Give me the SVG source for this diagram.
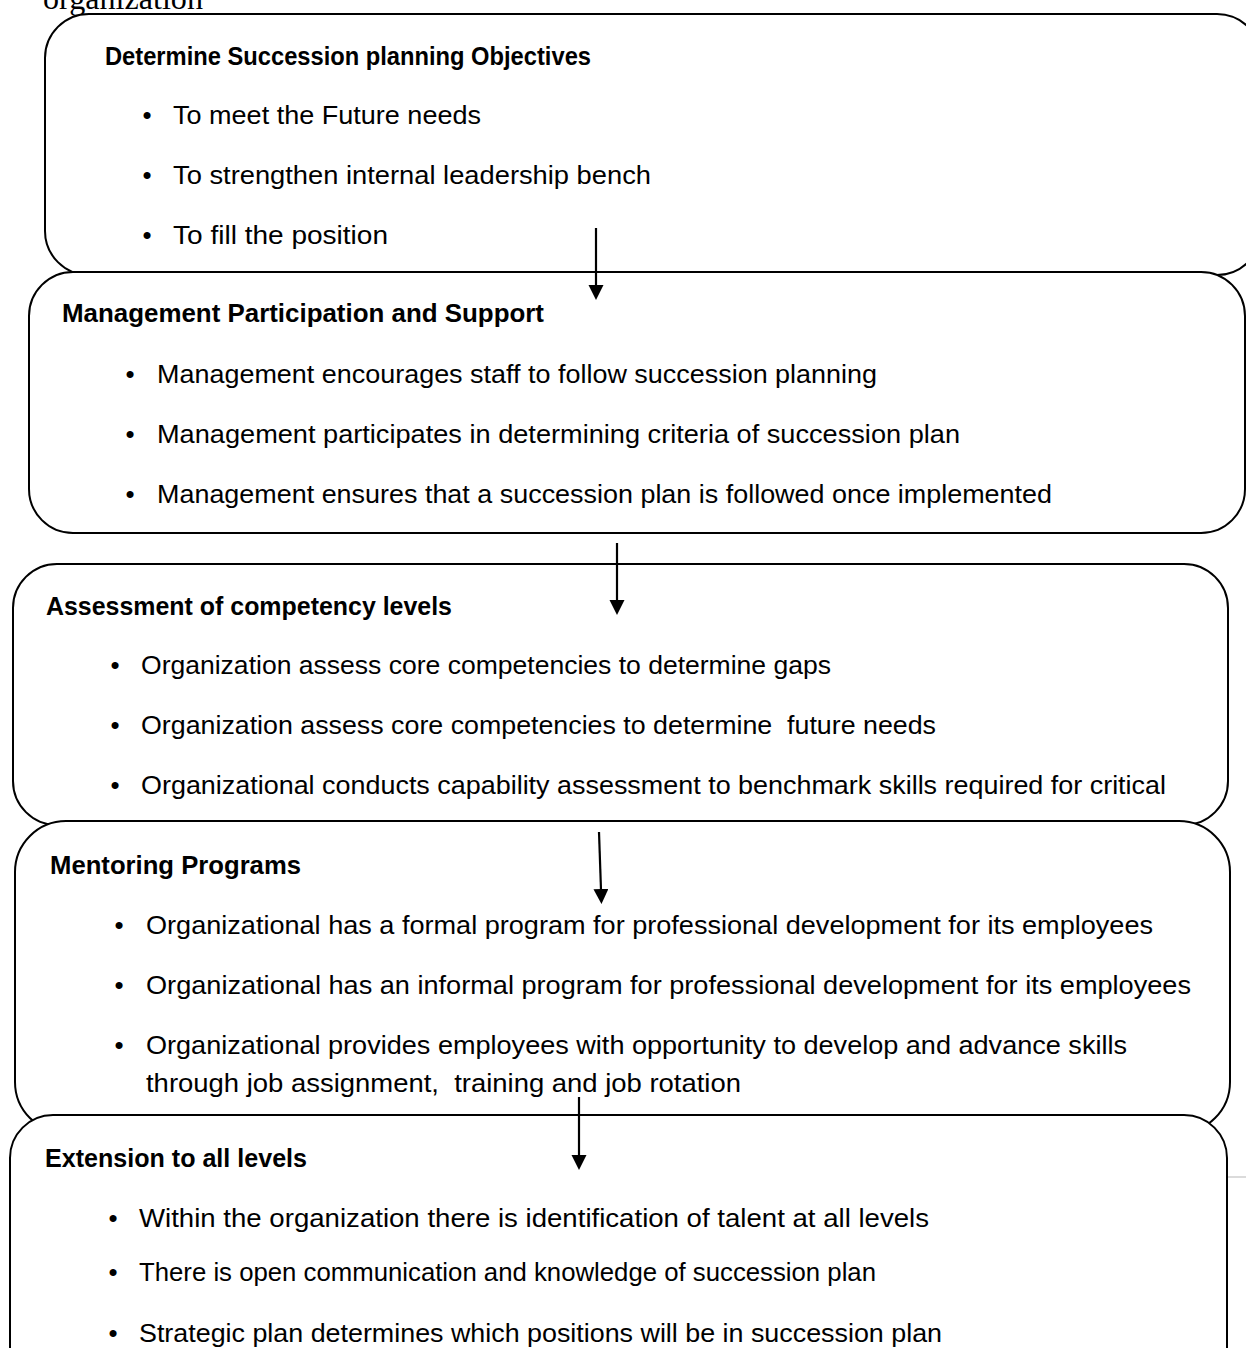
<svg xmlns="http://www.w3.org/2000/svg" width="1246" height="1348" viewBox="0 0 1246 1348">
<style>
.box{fill:#fff;stroke:#000;stroke-width:2}
.h{font-family:"Liberation Sans",Arial,sans-serif;font-weight:bold;font-size:25px;fill:#000}
.t{font-family:"Liberation Sans",Arial,sans-serif;font-size:26px;fill:#000}
.b{font-family:"Liberation Sans",Arial,sans-serif;font-size:26px;fill:#000;text-anchor:middle}
.org{font-family:"Liberation Serif","Times New Roman",serif;font-size:31px;fill:#000}
.conn line{stroke:#000;stroke-width:2.2}
</style>
<defs>
<marker id="ah" markerUnits="userSpaceOnUse" markerWidth="16" markerHeight="16" refX="1" refY="7.5" orient="auto">
<path d="M0,0 L15,7.5 L0,15 z" fill="#000"/>
</marker>
</defs>
<rect width="1246" height="1348" fill="#fff"/>
<text class="org" x="43" y="9" textLength="160" lengthAdjust="spacingAndGlyphs">organization</text>

<g id="node1">
<rect class="box" x="45" y="14" width="1216" height="261" rx="44"/>
<text class="h" x="105" y="65" textLength="486" lengthAdjust="spacingAndGlyphs">Determine Succession planning Objectives</text>
<text class="b" x="147" y="124">•</text><text class="t" x="173" y="124" textLength="308" lengthAdjust="spacingAndGlyphs">To meet the Future needs</text>
<text class="b" x="147" y="184">•</text><text class="t" x="173" y="184" textLength="478" lengthAdjust="spacingAndGlyphs">To strengthen internal leadership bench</text>
<text class="b" x="147" y="244">•</text><text class="t" x="173" y="244" textLength="215" lengthAdjust="spacingAndGlyphs">To fill the position</text>
</g>

<g id="node2">
<rect class="box" x="29" y="272" width="1216" height="261" rx="44"/>
<text class="h" x="62" y="322" textLength="482" lengthAdjust="spacingAndGlyphs">Management Participation and Support</text>
<text class="b" x="130" y="383">•</text><text class="t" x="157" y="383" textLength="720" lengthAdjust="spacingAndGlyphs">Management encourages staff to follow succession planning</text>
<text class="b" x="130" y="443">•</text><text class="t" x="157" y="443" textLength="803" lengthAdjust="spacingAndGlyphs">Management participates in determining criteria of succession plan</text>
<text class="b" x="130" y="503">•</text><text class="t" x="157" y="503" textLength="895" lengthAdjust="spacingAndGlyphs">Management ensures that a succession plan is followed once implemented</text>
</g>

<g id="node3">
<rect class="box" x="13" y="564" width="1215" height="261" rx="44"/>
<text class="h" x="46" y="615" textLength="406" lengthAdjust="spacingAndGlyphs">Assessment of competency levels</text>
<text class="b" x="115" y="674">•</text><text class="t" x="141" y="674" textLength="690" lengthAdjust="spacingAndGlyphs">Organization assess core competencies to determine gaps</text>
<text class="b" x="115" y="734">•</text><text class="t" x="141" y="734" textLength="795" lengthAdjust="spacingAndGlyphs" xml:space="preserve">Organization assess core competencies to determine  future needs</text>
<text class="b" x="115" y="794">•</text><text class="t" x="141" y="794" textLength="1025" lengthAdjust="spacingAndGlyphs">Organizational conducts capability assessment to benchmark skills required for critical</text>
</g>

<g id="node4">
<rect class="box" x="15" y="821" width="1215" height="312" rx="51"/>
<text class="h" x="50" y="874" textLength="251" lengthAdjust="spacingAndGlyphs">Mentoring Programs</text>
<text class="b" x="119" y="934">•</text><text class="t" x="146" y="934" textLength="1007" lengthAdjust="spacingAndGlyphs">Organizational has a formal program for professional development for its employees</text>
<text class="b" x="119" y="994">•</text><text class="t" x="146" y="994" textLength="1045" lengthAdjust="spacingAndGlyphs">Organizational has an informal program for professional development for its employees</text>
<text class="b" x="119" y="1054">•</text><text class="t" x="146" y="1054" textLength="981" lengthAdjust="spacingAndGlyphs">Organizational provides employees with opportunity to develop and advance skills</text>
<text class="t" x="146" y="1092" textLength="595" lengthAdjust="spacingAndGlyphs" xml:space="preserve">through job assignment,  training and job rotation</text>
</g>

<g id="node5">
<rect class="box" x="10" y="1115" width="1217" height="300" rx="43"/>
<text class="h" x="45" y="1167" textLength="262" lengthAdjust="spacingAndGlyphs">Extension to all levels</text>
<text class="b" x="113" y="1227">•</text><text class="t" x="139" y="1227" textLength="790" lengthAdjust="spacingAndGlyphs">Within the organization there is identification of talent at all levels</text>
<text class="b" x="113" y="1281">•</text><text class="t" x="139" y="1281" textLength="737" lengthAdjust="spacingAndGlyphs">There is open communication and knowledge of succession plan</text>
<text class="b" x="113" y="1342">•</text><text class="t" x="139" y="1342" textLength="803" lengthAdjust="spacingAndGlyphs">Strategic plan determines which positions will be in succession plan</text>
</g>

<line x1="1228" y1="1177" x2="1246" y2="1177" stroke="#cfcfcf" stroke-width="1.5"/>

<g id="connectors" class="conn">
<line x1="596" y1="228" x2="596" y2="286" marker-end="url(#ah)"/>
<line x1="617" y1="543" x2="617" y2="601" marker-end="url(#ah)"/>
<line x1="599" y1="832" x2="601" y2="890" marker-end="url(#ah)"/>
<line x1="579" y1="1097" x2="579" y2="1156" marker-end="url(#ah)"/>
</g>
</svg>
